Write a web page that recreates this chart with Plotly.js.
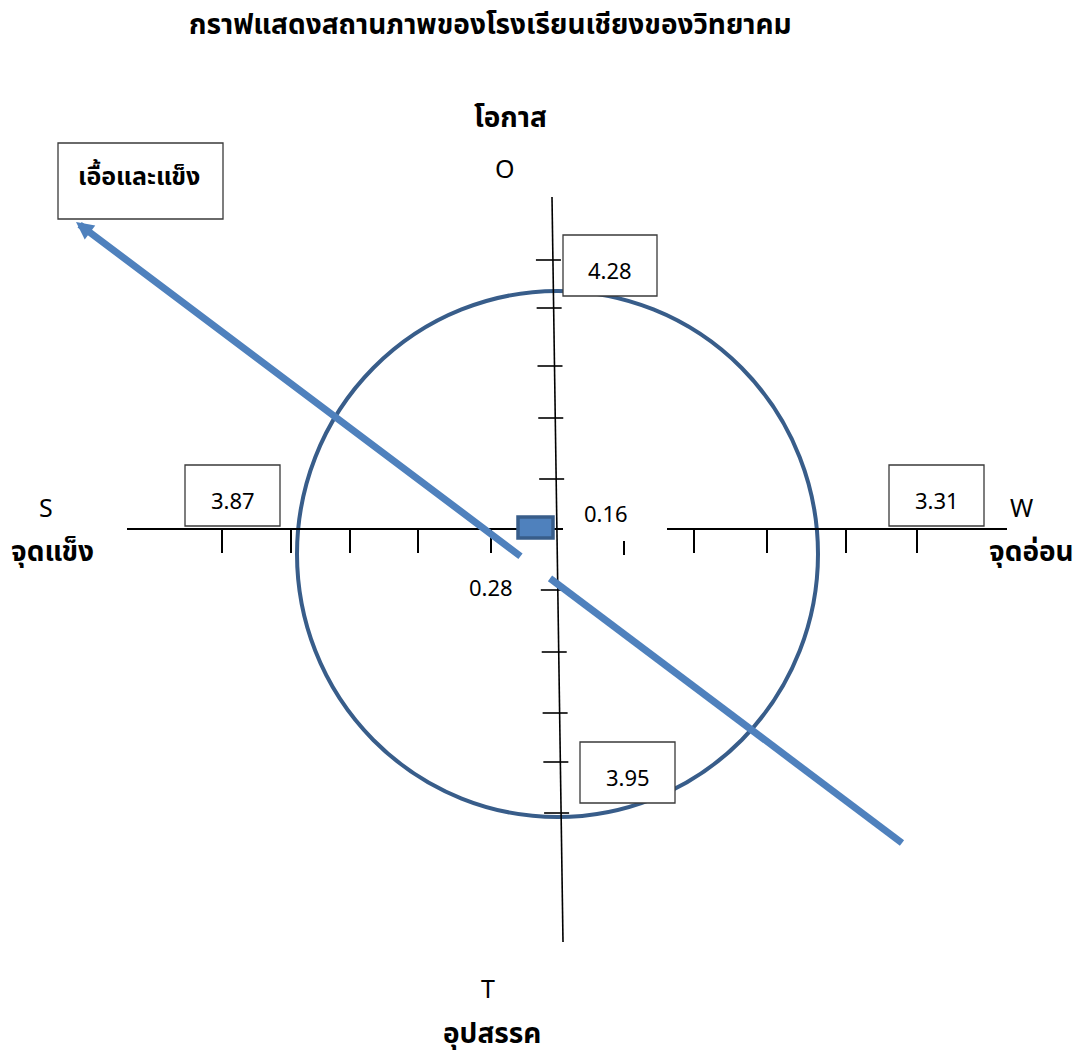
<!DOCTYPE html>
<html>
<head>
<meta charset="utf-8">
<script src="https://cdn.plot.ly/plotly-3.0.1.min.js"></script>
<style>html,body{margin:0;padding:0;background:#fff;}#chart{width:1089px;height:1056px;}</style>
</head>
<body>
<div id="chart"></div>
<script>
// ---------- DATA ----------
const chartTitle = 'กราฟแสดงสถานภาพของโรงเรียนเชียงของวิทยาคม';
const factorCodes = ['S', 'W', 'O', 'T'];
const factorNames = ['จุดแข็ง', 'จุดอ่อน', 'โอกาส', 'อุปสรรค'];
const factorScores = [3.87, 3.31, 4.28, 3.95];
const netLabels = ['0.16', '0.28'];
const netValues = [0.16, 0.28];
const strategyName = 'เอื้อและแข็ง';

// ---------- DIAGRAM GEOMETRY (page pixels) ----------
const W = 1089, H = 1056;
const origin = {x: 557, y: 529};
const hAxisLeft = [127, 563], hAxisRight = [667, 1007];
const vAxisTop = {x: 552, y: 197}, vAxisBottom = {x: 563, y: 942};
const hTicks = [222, 291, 350, 418, 491, 694, 767, 846, 917];
const hShortTick = 624;
const vTicks = [260, 308, 366, 418, 479, 590, 652, 713, 762, 813];
const ring = {x0: 297, x1: 818, y0: 291, y1: 817};
const arrowTip = {x: 76, y: 222}, arrowTail = {x: 902, y: 843};
const gapX = [522, 550];
const marker = {x0: 518, x1: 553, y0: 517, y1: 538};
// value boxes: S, W, O, T
const boxes = [
  {x0: 185, x1: 280, y0: 465, y1: 526},
  {x0: 889, x1: 984, y0: 465, y1: 526},
  {x0: 563, x1: 657, y0: 235, y1: 296},
  {x0: 580, x1: 675, y0: 742, y1: 803}
];
const codePos = [{x: 46, y: 507}, {x: 1021, y: 507}, {x: 505, y: 168}, {x: 488, y: 988}];
const namePos = [{x: 52, y: 552}, {x: 1031, y: 552}, {x: 510, y: 118}, {x: 492, y: 1034}];
const netPos = [{x: 606, y: 513}, {x: 491, y: 587}];
const stratBox = {x0: 58, x1: 223, y0: 143, y1: 219};

const THAI = '"Noto Sans Thai", "Noto Sans Thai UI", Loma, Garuda, Tahoma, "Noto Sans", sans-serif';
const NUM = '"Noto Sans", "Open Sans", sans-serif';
const blue = '#4F81BD', darkBlue = '#385D8A';

function vx(y) { return vAxisTop.x + (y - vAxisTop.y) * (vAxisBottom.x - vAxisTop.x) / (vAxisBottom.y - vAxisTop.y); }
function lineAt(x) { return arrowTip.y + (x - arrowTip.x) * (arrowTail.y - arrowTip.y) / (arrowTail.x - arrowTip.x); }

const shapes = [];
function seg(x0, y0, x1, y1, color, width) {
  shapes.push({type: 'line', xref: 'x', yref: 'y', x0, y0, x1, y1, line: {color, width}});
}
// circle
shapes.push({type: 'circle', xref: 'x', yref: 'y', x0: ring.x0, x1: ring.x1, y0: ring.y0, y1: ring.y1, line: {color: darkBlue, width: 4}});
// horizontal axis
seg(hAxisLeft[0], origin.y, hAxisLeft[1], origin.y, '#000', 2);
seg(hAxisRight[0], origin.y, hAxisRight[1], origin.y, '#000', 2);
hTicks.forEach(x => seg(x, origin.y, x, origin.y + 24, '#000', 2));
seg(hShortTick, 541, hShortTick, 555, '#000', 2);
// vertical axis
seg(vAxisTop.x, vAxisTop.y, vAxisBottom.x, vAxisBottom.y, '#000', 1.6);
vTicks.forEach(y => { const x = vx(y); seg(x - 17, y, x + 8, y, '#000', 1.6); });
// value boxes
boxes.forEach(b => shapes.push({type: 'rect', xref: 'x', yref: 'y', x0: b.x0, x1: b.x1, y0: b.y0, y1: b.y1, line: {color: '#3a3a3a', width: 1.3}, fillcolor: 'rgba(255,255,255,1)'}));
shapes.push({type: 'rect', xref: 'x', yref: 'y', x0: stratBox.x0, x1: stratBox.x1, y0: stratBox.y0, y1: stratBox.y1, line: {color: '#3a3a3a', width: 1.3}, fillcolor: '#fff'});
// lower segment of strategy line
seg(gapX[1], lineAt(gapX[1]), arrowTail.x, arrowTail.y, blue, 7);
// position marker
shapes.push({type: 'rect', xref: 'x', yref: 'y', x0: marker.x0, x1: marker.x1, y0: marker.y0, y1: marker.y1, line: {color: darkBlue, width: 3.5}, fillcolor: blue});

const annotations = [];
function txt(x, y, text, size, bold, family) {
  annotations.push({xref: 'x', yref: 'y', x, y, text: bold ? '<b>' + text + '</b>' : text, showarrow: false,
    xanchor: 'center', yanchor: 'middle', font: {family, size, color: '#000'}});
}
// upper segment with arrowhead
annotations.push({xref: 'x', yref: 'y', axref: 'x', ayref: 'y', x: arrowTip.x, y: arrowTip.y,
  ax: gapX[0], ay: lineAt(gapX[0]), text: '', showarrow: true, arrowhead: 2, arrowsize: 0.5,
  arrowwidth: 7, arrowcolor: blue, standoff: 0, startstandoff: 0});
txt(490, 25, chartTitle, 28, true, THAI);
factorCodes.forEach((c, i) => txt(codePos[i].x, codePos[i].y, c, 25, false, NUM));
factorNames.forEach((n, i) => txt(namePos[i].x, namePos[i].y, n, 28, true, THAI));
factorScores.forEach((v, i) => txt((boxes[i].x0 + boxes[i].x1) / 2, (boxes[i].y0 + boxes[i].y1) / 2 + 4, v.toFixed(2), 22, false, NUM));
netValues.forEach((v, i) => txt(netPos[i].x, netPos[i].y, netLabels[i], 22, false, NUM));
txt((stratBox.x0 + stratBox.x1) / 2 - 2, 177, strategyName, 25, true, THAI);

const layout = {
  width: W, height: H, autosize: false,
  margin: {l: 0, r: 0, t: 0, b: 0, pad: 0},
  paper_bgcolor: '#fff', plot_bgcolor: '#fff',
  showlegend: false,
  xaxis: {range: [0, W], visible: false, fixedrange: true},
  yaxis: {range: [H, 0], visible: false, fixedrange: true},
  shapes, annotations
};
Plotly.newPlot('chart', [{type: 'scatter', x: [], y: [], mode: 'markers', hoverinfo: 'skip'}], layout, {displayModeBar: false, staticPlot: true});
</script>
</body>
</html>
